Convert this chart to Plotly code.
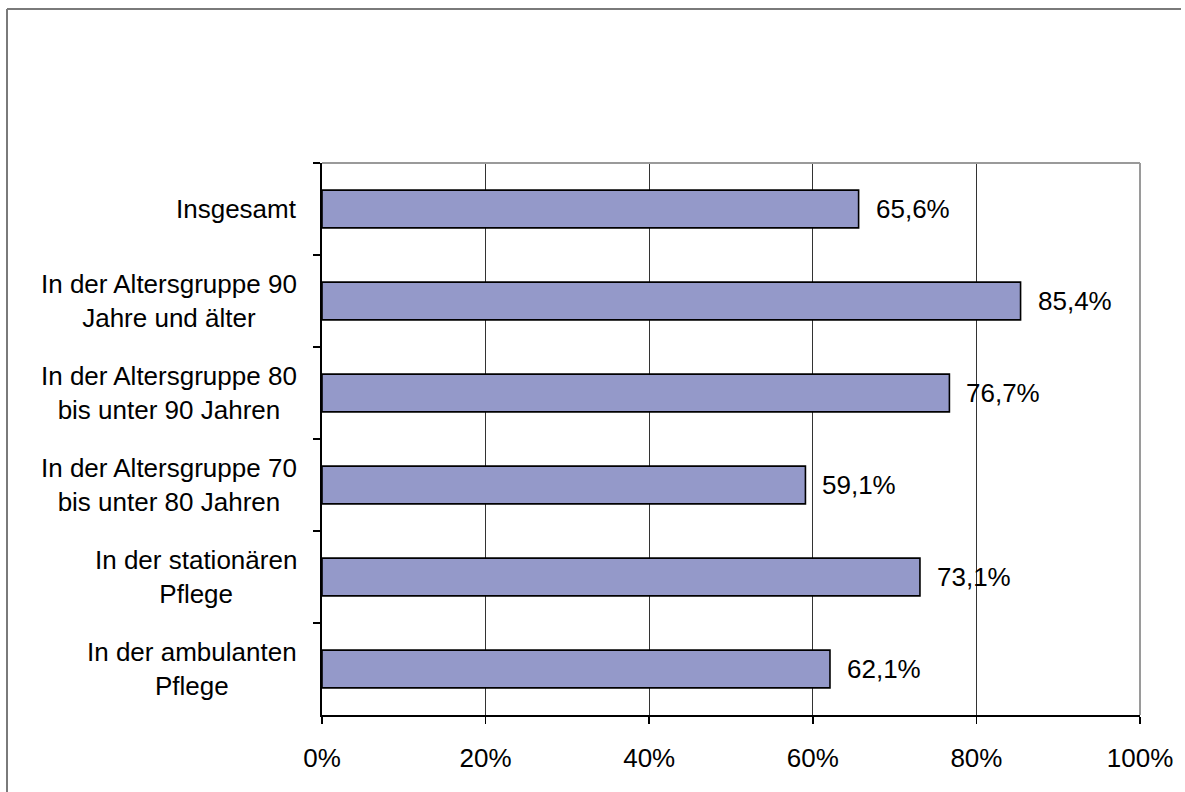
import plotly.graph_objects as go

categories = [
    "Insgesamt",
    "In der Altersgruppe 90<br>Jahre und älter",
    "In der Altersgruppe 80<br>bis unter 90 Jahren",
    "In der Altersgruppe 70<br>bis unter 80 Jahren",
    "In der stationären<br>Pflege",
    "In der ambulanten<br>Pflege",
]
values = [65.6, 85.4, 76.7, 59.1, 73.1, 62.1]
value_labels = ["65,6%", "85,4%", "76,7%", "59,1%", "73,1%", "62,1%"]
x_ticks = [0, 20, 40, 60, 80, 100]
x_tick_labels = ["0%", "20%", "40%", "60%", "80%", "100%"]

W, H = 1185, 792
L, R, T, B = 322, 45, 163, 77
PW, PH = W - L - R, H - T - B
FONT = "Liberation Sans, Arial, sans-serif"
FS = 26

fig = go.Figure()
fig.add_trace(go.Bar(
    orientation="h",
    x=values,
    y=categories,
    width=0.41,
    marker=dict(color="#9499C9", line=dict(color="#000000", width=1.6)),
    hoverinfo="skip",
))

# category labels (centered multi-line, right aligned block)
for c in categories:
    fig.add_annotation(
        x=0, xref="paper", y=c, yref="y",
        text=c, showarrow=False,
        xanchor="right", yanchor="middle", align="center",
        xshift=-23,
        font=dict(family=FONT, size=FS, color="#000000"),
    )

# value labels
for c, v, t in zip(categories, values, value_labels):
    fig.add_annotation(
        x=v, xref="x", y=c, yref="y",
        text=t, showarrow=False,
        xanchor="left", yanchor="middle",
        xshift=15,
        font=dict(family=FONT, size=FS, color="#000000"),
    )

# outer frame (top and left edges visible)
fx0 = (7 - L) / PW
fx1 = (W - 4 - L) / PW
fy0 = (H - B - H) / PH
fy1 = (H - B - 9) / PH
fig.add_shape(type="line", xref="paper", yref="paper", x0=fx0, x1=fx1, y0=fy1, y1=fy1,
              line=dict(color="#7a7a7a", width=2), layer="below")
fig.add_shape(type="line", xref="paper", yref="paper", x0=fx0, x1=fx0, y0=fy0, y1=fy1,
              line=dict(color="#7a7a7a", width=2), layer="below")
# plot area top/right border
fig.add_shape(type="line", xref="paper", yref="paper", x0=0, x1=1, y0=1, y1=1,
              line=dict(color="#9a9a9a", width=2), layer="above")
fig.add_shape(type="line", xref="paper", yref="paper", x0=1, x1=1, y0=0, y1=1,
              line=dict(color="#9a9a9a", width=2), layer="above")

fig.update_layout(
    width=W, height=H,
    margin=dict(l=L, r=R, t=T, b=B, pad=0),
    paper_bgcolor="white", plot_bgcolor="white",
    showlegend=False,
    font=dict(family=FONT, size=FS, color="#000000"),
    xaxis=dict(
        range=[0, 100], tickvals=x_ticks, ticktext=x_tick_labels,
        showgrid=True, gridcolor="#333333", gridwidth=1,
        zeroline=False, showline=True, linecolor="#000000", linewidth=1.6,
        ticks="outside", ticklen=7, tickcolor="#000000", tickwidth=1.5,
        ticklabelstandoff=12,
        tickfont=dict(family=FONT, size=FS, color="#000000"),
        fixedrange=True,
    ),
    yaxis=dict(
        type="category", categoryorder="array", categoryarray=categories,
        autorange="reversed",
        showgrid=False, zeroline=False,
        showline=True, linecolor="#000000", linewidth=1.6,
        ticks="outside", tickson="boundaries", ticklen=7, tickcolor="#000000", tickwidth=1.5,
        showticklabels=False,
        fixedrange=True,
    ),
    bargap=0.59,
)

fig.write_html(
    "out.html",
    config={"displayModeBar": False, "staticPlot": True},
    post_script="document.body.style.margin='0';document.body.style.overflow='hidden';",
)
